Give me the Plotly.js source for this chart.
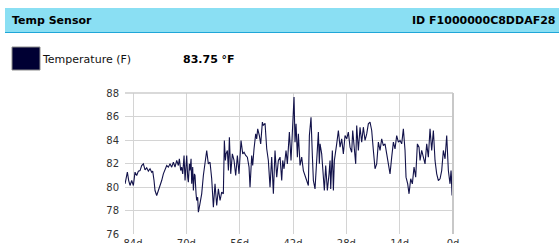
<!DOCTYPE html>
<html>
<head>
<meta charset="utf-8">
<script src="https://cdn.plot.ly/plotly-3.0.1.min.js"></script>
<style>
html,body{margin:0;padding:0;background:#fff;}
#chart{width:559px;height:243px;}
</style>
</head>
<body>
<div id="chart"></div>
<script>
// ---- data ----
const daysAgo = [
86.09,85.83,85.48,85.13,84.78,84.34,83.90,83.47,83.03,82.59,82.15,81.72,81.28,80.84,80.40,79.97,79.53,79.09,78.83,78.48,
78.22,77.78,77.34,76.90,76.47,76.03,75.59,75.15,74.72,74.28,73.84,73.40,72.97,72.53,72.09,71.83,71.48,71.22,70.95,70.60,
70.34,70.08,69.90,69.64,69.47,69.20,69.03,68.76,68.59,68.33,68.15,67.89,67.72,67.45,67.28,67.02,66.84,66.58,66.40,65.97,
65.53,65.09,64.65,64.39,64.22,63.78,63.34,62.90,62.64,62.47,62.03,61.59,61.15,60.72,60.28,60.02,59.75,59.58,59.23,58.96,
58.70,58.35,57.92,57.48,57.04,56.60,56.17,55.90,55.64,55.20,54.85,54.42,53.98,53.54,53.28,52.84,52.58,52.23,51.79,51.53,
51.27,50.83,50.48,50.04,49.78,49.34,48.90,48.47,48.03,47.59,47.15,46.72,46.28,45.84,45.40,44.96,44.70,44.35,43.83,43.48,
42.95,42.52,42.08,41.73,41.47,41.20,40.85,40.59,40.15,39.72,39.28,38.84,38.40,37.97,37.70,37.27,36.92,36.65,36.22,35.78,
35.34,35.08,34.90,34.47,34.20,33.77,33.42,32.98,32.54,32.28,32.10,31.67,31.40,31.14,30.53,30.09,29.65,29.22,28.78,28.34,
27.90,27.47,27.03,26.59,26.33,25.98,25.54,25.28,24.84,24.40,23.97,23.53,23.09,22.65,22.22,21.78,21.34,20.90,20.47,20.03,
19.59,19.15,18.72,18.28,17.84,17.40,16.97,16.53,16.09,15.65,15.22,14.78,14.34,13.90,13.47,13.03,12.59,12.33,11.89,11.54,
11.10,10.67,10.23,9.79,9.35,8.92,8.65,8.22,7.78,7.34,6.90,6.47,6.03,5.59,5.15,4.72,4.28,3.84,3.40,2.97,
2.53,2.09,1.65,1.22,0.78,0.52,0.25,0.00
];
const temperatureF = [
80.27,80.84,81.26,80.55,80.13,80.55,80.13,81.26,80.98,81.35,81.40,81.83,81.97,81.46,81.63,81.35,81.55,81.26,81.35,80.55,
79.70,79.28,79.70,79.99,80.55,81.12,81.46,81.83,81.69,81.97,81.69,82.11,81.69,82.26,81.83,82.40,81.40,81.69,81.12,82.68,
80.55,82.11,82.68,80.84,80.41,81.97,81.40,82.40,80.27,81.69,79.70,81.12,80.98,79.42,78.85,79.13,77.86,78.28,78.57,79.42,
80.98,82.11,83.11,82.40,81.97,82.11,80.70,78.28,79.70,80.27,78.43,79.84,78.85,79.56,79.42,83.96,82.26,82.82,83.11,81.40,
84.24,81.12,82.82,82.26,80.98,82.68,81.12,83.11,83.96,82.82,82.96,82.68,82.54,81.69,79.99,82.68,81.83,83.25,84.52,84.10,
84.95,84.38,83.67,85.52,85.23,85.43,83.25,82.26,79.99,82.54,79.42,83.11,80.84,82.26,82.54,80.55,82.26,81.55,83.11,81.97,
84.67,82.26,84.81,87.65,83.82,85.38,82.54,84.52,81.83,82.54,81.40,80.98,80.55,80.13,84.38,85.94,82.68,80.55,79.84,82.26,
84.67,81.97,83.67,82.82,81.40,79.70,81.83,79.70,81.12,82.26,79.84,83.11,79.70,82.26,83.67,84.81,83.39,84.10,82.82,84.38,
84.10,84.67,83.39,82.96,84.81,83.67,81.97,85.23,83.11,85.09,83.82,85.09,83.96,84.52,85.38,85.52,84.81,83.11,81.55,81.97,
83.82,83.11,84.10,83.53,83.67,82.82,81.83,81.12,82.54,83.82,83.25,84.38,83.82,83.96,83.67,84.95,83.11,80.84,80.27,79.42,
80.70,80.27,81.69,80.84,83.67,83.39,82.26,83.11,82.54,81.97,83.67,82.54,84.95,83.11,84.81,82.26,81.12,80.55,80.70,81.40,
83.11,82.40,84.38,81.40,80.27,81.40,79.28,83.75
];
const xTickVals = [84, 70, 56, 42, 28, 14, 0];
const xTickText = ['84d', '70d', '56d', '42d', '28d', '14d', '0d'];
const yTickVals = [76, 78, 80, 82, 84, 86, 88];
const headerTitle = 'Temp Sensor';
const headerId = 'ID F1000000C8DDAF28';
const seriesName = 'Temperature (F)';
const currentValue = '83.75 °F';

// ---- layout geometry (pixels of the 559x243 page) ----
const W = 559, H = 243;
const L = 125, R = 453, T = 93, B = 234;
const px = x => (x - L) / (R - L);
const py = y => (B - y) / (B - T);

const FONT = 'DejaVu Sans, Verdana, sans-serif';

const trace = {
  x: daysAgo,
  y: temperatureF,
  type: 'scatter',
  mode: 'lines',
  name: seriesName,
  line: {color: '#12124a', width: 1.1},
  hoverinfo: 'skip'
};

const layout = {
  width: W, height: H,
  margin: {l: L, r: W - R, t: T, b: H - B, pad: 0},
  paper_bgcolor: '#ffffff',
  plot_bgcolor: '#ffffff',
  showlegend: false,
  font: {family: FONT, size: 10, color: '#333333'},
  xaxis: {
    range: [86.1, 0],
    tickmode: 'array', tickvals: xTickVals, ticktext: xTickText,
    showgrid: true, gridcolor: '#d4d4d4', gridwidth: 1,
    zeroline: false, showline: false, ticks: '',
    ticklabelstandoff: 2,
    tickfont: {family: FONT, size: 10, color: '#333333'},
    fixedrange: true
  },
  yaxis: {
    range: [76, 88],
    tickmode: 'array', tickvals: yTickVals,
    showgrid: true, gridcolor: '#d4d4d4', gridwidth: 1,
    zeroline: false, showline: false, ticks: '',
    ticklabelstandoff: 5,
    tickfont: {family: FONT, size: 10, color: '#333333'},
    fixedrange: true
  },
  shapes: [
    // header bar
    {type: 'rect', xref: 'paper', yref: 'paper', x0: px(5), x1: px(W + 2), y0: py(32), y1: py(8),
     fillcolor: '#8adff3', line: {width: 0}, layer: 'below'},
    {type: 'line', xref: 'paper', yref: 'paper', x0: px(5), x1: px(W + 2), y0: py(32.5), y1: py(32.5),
     line: {color: '#1fa6d8', width: 1}},
    // legend swatch
    {type: 'rect', xref: 'paper', yref: 'paper', x0: px(12), x1: px(40), y0: py(70), y1: py(47),
     fillcolor: '#000033', line: {color: '#8c8c8c', width: 1}},
    // plot frame top and right
    {type: 'line', xref: 'paper', yref: 'paper', x0: 0, x1: 1, y0: 1, y1: 1,
     line: {color: '#cccccc', width: 1.5}},
    {type: 'line', xref: 'paper', yref: 'paper', x0: 1, x1: 1, y0: 0, y1: 1,
     line: {color: '#c8c8c8', width: 2}}
  ],
  annotations: [
    {text: '<b>' + headerTitle + '</b>', xref: 'paper', yref: 'paper', x: px(10), y: py(20.5),
     xanchor: 'left', yanchor: 'middle', showarrow: false,
     font: {family: FONT, size: 11, color: '#000000'}},
    {text: '<b>' + headerId + '</b>', xref: 'paper', yref: 'paper', x: px(557), y: py(20.5),
     xanchor: 'right', yanchor: 'middle', showarrow: false,
     font: {family: FONT, size: 11, color: '#000000'}},
    {text: seriesName, xref: 'paper', yref: 'paper', x: px(40), y: py(59.5),
     xanchor: 'left', yanchor: 'middle', showarrow: false,
     font: {family: FONT, size: 11, color: '#111111'}},
    {text: '<b>' + currentValue + '</b>', xref: 'paper', yref: 'paper', x: px(181), y: py(59.5),
     xanchor: 'left', yanchor: 'middle', showarrow: false,
     font: {family: FONT, size: 11, color: '#000000'}}
  ]
};

Plotly.newPlot('chart', [trace], layout, {staticPlot: true, displayModeBar: false});
</script>
</body>
</html>
